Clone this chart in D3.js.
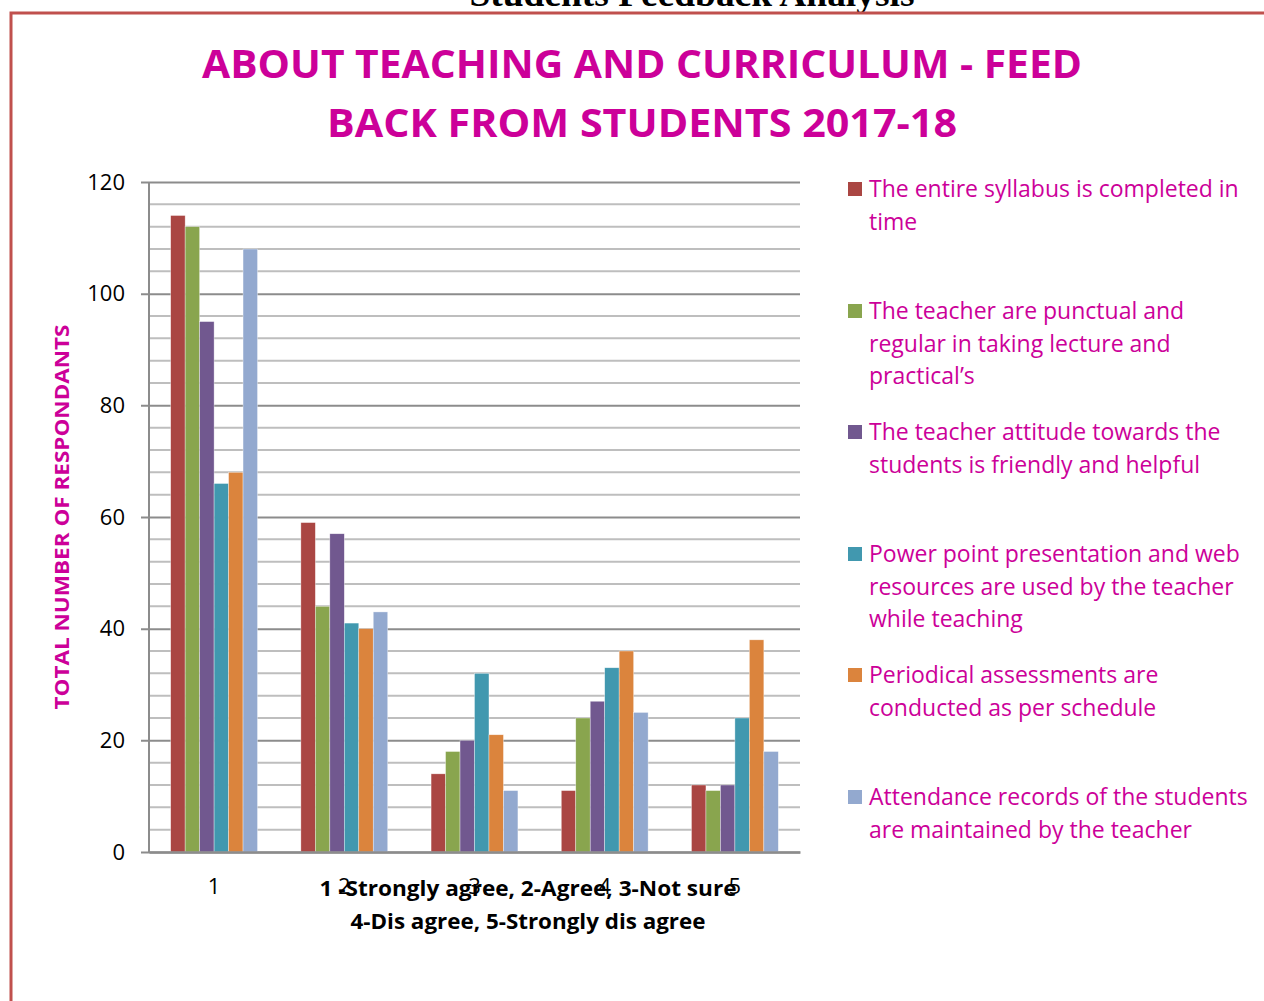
<!DOCTYPE html>
<html>
<head>
<meta charset="utf-8">
<script src="https://cdn.jsdelivr.net/npm/d3@7"></script>
<style>
  body { margin: 0; background: #fff; }
  text { font-family: "Open Sans", "DejaVu Sans", sans-serif; }
</style>
</head>
<body>
<script>
// categories on the x axis (answer codes)
var categories = ["1", "2", "3", "4", "5"];

// one list per question
var syllabus   = [114, 59, 14, 11, 12];
var punctual   = [112, 44, 18, 24, 11];
var attitude   = [95, 57, 20, 27, 12];
var powerpoint = [66, 41, 32, 33, 24];
var periodical = [68, 40, 21, 36, 38];
var attendance = [108, 43, 11, 25, 18];

var seriesNames = [
  ["The entire syllabus is completed in", "time"],
  ["The teacher are punctual and", "regular in taking lecture and", "practical\u2019s"],
  ["The teacher attitude towards the", "students is friendly and helpful"],
  ["Power point presentation and web", "resources are used by the teacher", "while teaching"],
  ["Periodical assessments are", "conducted as per schedule"],
  ["Attendance records of the students", "are maintained by the teacher"]
];
var seriesValues = [syllabus, punctual, attitude, powerpoint, periodical, attendance];
var colors = ["#AA4643", "#89A54E", "#71588F", "#4198AF", "#DB843D", "#93A9CF"];

var yTicks = [0, 20, 40, 60, 80, 100, 120];

var magenta = "#CC0099";

var svg = d3.select("body").append("svg")
    .attr("width", 1264)
    .attr("height", 1001);

// page heading cut off by the top of the page
svg.append("text")
    .attr("x", 692)
    .attr("y", 6)
    .attr("text-anchor", "middle")
    .style("font-family", "'Liberation Serif', serif")
    .attr("font-weight", "bold")
    .attr("font-size", 36)
    .attr("textLength", 445)
    .attr("lengthAdjust", "spacingAndGlyphs")
    .text("Students Feedback Analysis");

// red page border
svg.append("path")
    .attr("d", "M11,1001 V13 H1264")
    .attr("fill", "none")
    .attr("stroke", "#C0504D")
    .attr("stroke-width", 3);

// chart title
var titleLines = [
  ["ABOUT TEACHING AND CURRICULUM - FEED", 78, 880],
  ["BACK FROM STUDENTS 2017-18", 137, 630]
];
svg.selectAll(".title")
  .data(titleLines)
  .enter().append("text")
    .attr("class", "title")
    .attr("x", 642)
    .attr("y", function(d) { return d[1]; })
    .attr("text-anchor", "middle")
    .attr("fill", magenta)
    .attr("font-weight", "bold")
    .attr("font-size", 40)
    .attr("textLength", function(d) { return d[2]; })
    .attr("lengthAdjust", "spacingAndGlyphs")
    .text(function(d) { return d[0]; });

var plotLeft = 149, plotRight = 800, plotTop = 182, plotBottom = 852;

var x = d3.scaleBand()
    .domain(categories)
    .range([plotLeft, plotRight])
    .paddingInner(0.333)
    .paddingOuter(0.1665);

var xInner = d3.scaleBand()
    .domain(d3.range(seriesValues.length))
    .range([0, x.bandwidth()]);

var y = d3.scaleLinear()
    .domain([0, 120])
    .range([plotBottom, plotTop]);

// minor gridlines every 4
var minor = d3.range(4, 120, 4).filter(function(v) { return v % 20 !== 0; });
svg.append("g").selectAll("line")
  .data(minor)
  .enter().append("line")
    .attr("x1", plotLeft).attr("x2", plotRight)
    .attr("y1", function(d) { return y(d); })
    .attr("y2", function(d) { return y(d); })
    .attr("stroke", "#BEBEBE")
    .attr("stroke-width", 2);

// major gridlines + ticks
var yAxis = d3.axisLeft(y)
    .tickValues(yTicks)
    .tickSize(-(plotRight - plotLeft))
    .tickPadding(24)
    .tickFormat(d3.format("d"));

var gy = svg.append("g")
    .attr("transform", "translate(" + plotLeft + ",0)")
    .call(yAxis);
gy.select(".domain").remove();
gy.selectAll(".tick line")
    .attr("x1", -8)
    .attr("stroke", "#8C8C8C")
    .attr("stroke-width", 2);
gy.selectAll(".tick text")
    .attr("font-size", 22)
    .attr("fill", "#000")
    .style("font-family", "'Open Sans', sans-serif");

// y axis line
svg.append("line")
    .attr("x1", plotLeft).attr("x2", plotLeft)
    .attr("y1", plotTop).attr("y2", plotBottom)
    .attr("stroke", "#8C8C8C")
    .attr("stroke-width", 2);

// bars
var groups = svg.append("g").selectAll("g")
  .data(categories)
  .enter().append("g")
    .attr("transform", function(d) { return "translate(" + x(d) + ",0)"; });

groups.selectAll("rect")
  .data(function(d, i) {
    return seriesValues.map(function(s, j) { return { j: j, v: s[i] }; });
  })
  .enter().append("rect")
    .attr("x", function(d) { return xInner(d.j); })
    .attr("width", xInner.bandwidth())
    .attr("y", function(d) { return y(d.v); })
    .attr("height", function(d) { return y(0) - y(d.v); })
    .attr("fill", function(d) { return colors[d.j]; })
    .attr("stroke", "#fff")
    .attr("stroke-opacity", 0.6)
    .attr("stroke-width", 0.6);

// x axis
var xAxis = d3.axisBottom(x).tickSize(0).tickPadding(26);
var gx = svg.append("g")
    .attr("transform", "translate(0," + plotBottom + ")")
    .call(xAxis);
gx.select(".domain")
    .attr("stroke", "#8C8C8C")
    .attr("stroke-width", 2.5);
gx.selectAll(".tick text")
    .attr("font-size", 22)
    .attr("fill", "#000")
    .style("font-family", "'Open Sans', sans-serif");

// x axis title
var xTitle = [
  ["1 -Strongly agree, 2-Agree, 3-Not sure", 896, 417],
  ["4-Dis agree, 5-Strongly dis agree", 929, 355]
];
svg.selectAll(".xtitle")
  .data(xTitle)
  .enter().append("text")
    .attr("class", "xtitle")
    .attr("x", 528)
    .attr("y", function(d) { return d[1]; })
    .attr("text-anchor", "middle")
    .attr("font-weight", "bold")
    .attr("font-size", 21)
    .attr("fill", "#000")
    .attr("textLength", function(d) { return d[2]; })
    .attr("lengthAdjust", "spacingAndGlyphs")
    .text(function(d) { return d[0]; });

// y axis title
svg.append("text")
    .attr("transform", "translate(69,517) rotate(-90)")
    .attr("text-anchor", "middle")
    .attr("font-weight", "bold")
    .attr("font-size", 20)
    .attr("fill", magenta)
    .attr("textLength", 385)
    .attr("lengthAdjust", "spacingAndGlyphs")
    .text("TOTAL NUMBER OF RESPONDANTS");

// legend
var legendY = [189, 311, 432, 554, 675, 797];
var legend = svg.append("g").selectAll("g")
  .data(seriesNames)
  .enter().append("g")
    .attr("transform", function(d, i) { return "translate(848," + legendY[i] + ")"; });

legend.append("rect")
    .attr("x", 0)
    .attr("y", -7)
    .attr("width", 14)
    .attr("height", 14)
    .attr("fill", function(d, i) { return colors[i]; });

legend.append("text")
    .attr("x", 21)
    .attr("y", 0)
    .attr("fill", magenta)
    .attr("font-size", 23)
    .selectAll("tspan")
    .data(function(d) { return d; })
    .enter().append("tspan")
      .attr("x", 21)
      .attr("y", function(d, k) { return 8 + k * 32.5; })
      .text(function(d) { return d; });
</script>
</body>
</html>
